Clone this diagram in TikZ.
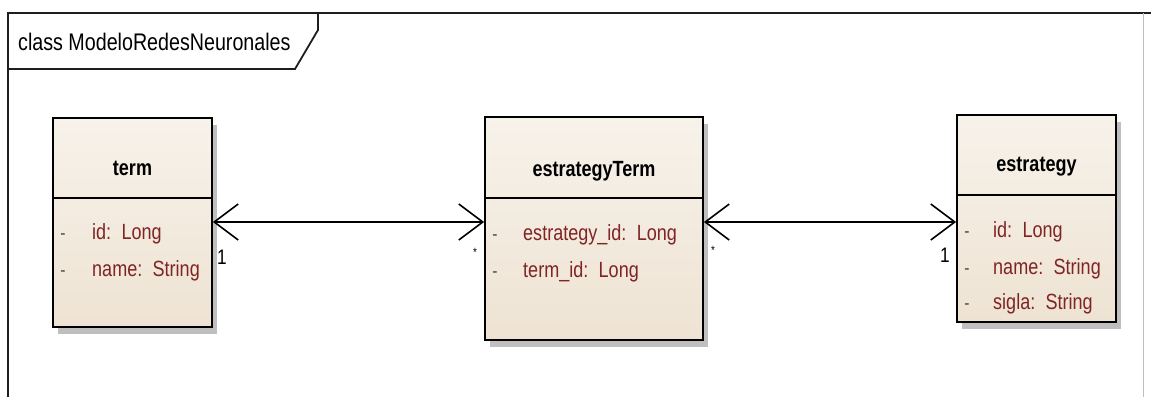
\documentclass[tikz,border=0pt]{standalone}
\usepackage{fontspec}
\setmainfont{Liberation Sans}[FakeStretch=0.82]
\usetikzlibrary{arrows.meta,shadows,calc}
\definecolor{classtop}{RGB}{247,242,234}
\definecolor{classbottom}{RGB}{238,227,211}
\definecolor{attrred}{RGB}{128,36,36}
\definecolor{frameink}{RGB}{30,30,30}
\begin{document}
\begin{tikzpicture}[x=1pt,y=-1pt,
  classbox/.style={draw=black, line width=1.8pt, inner sep=0pt,
    top color=classtop, bottom color=classbottom,
    drop shadow={shadow xshift=5pt, shadow yshift=-7pt, fill=black!25, opacity=1}},
  classname/.style={font=\fontsize{22}{26}\selectfont\bfseries, anchor=base, inner sep=0pt},
  attr/.style={font=\fontsize{22}{26}\selectfont, text=attrred, anchor=base west, inner sep=0pt},
  vis/.style={font=\fontsize{19}{22}\selectfont, text=black!70, anchor=base, inner sep=0pt},
  mult/.style={font=\fontsize{21}{24}\selectfont, anchor=base, inner sep=0pt},
  star/.style={font=\fontsize{12}{14}\selectfont, anchor=center, inner sep=0pt},
  assoc/.style={line width=1.8pt, {Straight Barb[length=24pt,width=36pt,line width=1.6pt]}-{Straight Barb[length=24pt,width=36pt,line width=1.6pt]}},
  frameline/.style={draw=frameink, line width=1.8pt}]

\path[use as bounding box] (0,0) rectangle (1151,397);

% package frame with its name tab
\draw[frameline] (8,397) -- (8,13) -- (1151,13);
\draw[draw=black!25, line width=1pt] (1143,13) -- (1143,397);
\draw[frameline, line join=miter] (318,13) -- (318,30) -- (295,69) -- (8,69);
\node[font=\fontsize{24}{28}\selectfont, anchor=base west, inner sep=0pt]
  (pkgname) at (18,50) {class ModeloRedesNeuronales};

% classes
\node[classbox, minimum width=159pt, minimum height=209pt] (term) at (132.5,222.5) {};
\node[classbox, minimum width=218pt, minimum height=223pt] (estrategyTerm) at (594,228.5) {};
\node[classbox, minimum width=159pt, minimum height=207pt] (estrategy) at (1036.5,218.5) {};

% compartment separators
\draw[line width=1.8pt] ($(term.north west)+(0,81)$) -- ($(term.north east)+(0,81)$);
\draw[line width=1.8pt] ($(estrategyTerm.north west)+(0,82)$) -- ($(estrategyTerm.north east)+(0,82)$);
\draw[line width=1.8pt] ($(estrategy.north west)+(0,81)$) -- ($(estrategy.north east)+(0,81)$);

% class names
\node[classname] (termname) at (132.5,175) {term};
\node[classname] (estrategyTermname) at (594,176) {estrategyTerm};
\node[classname] (estrategyname) at (1036.5,171) {estrategy};

% attributes of term
\node[vis] (tv1) at (63,239) {-};
\node[attr] (ta1) at (92,239) {id:\, Long};
\node[vis] (tv2) at (63,276) {-};
\node[attr] (ta2) at (92,276) {name:\, String};

% attributes of estrategyTerm
\node[vis] (ev1) at (495,240) {-};
\node[attr] (ea1) at (523,240) {estrategy\_id:\, Long};
\node[vis] (ev2) at (495,277) {-};
\node[attr] (ea2) at (523,277) {term\_id:\, Long};

% attributes of estrategy
\node[vis] (sv1) at (967,237) {-};
\node[attr] (sa1) at (993,237) {id:\, Long};
\node[vis] (sv2) at (967,274) {-};
\node[attr] (sa2) at (993,274) {name:\, String};
\node[vis] (sv3) at (967,309) {-};
\node[attr] (sa3) at (993,309) {sigla:\, String};

% associations
\coordinate (assocY) at (0,222);
\draw[assoc] (term.east |- assocY) -- (estrategyTerm.west |- assocY);
\draw[assoc] (estrategyTerm.east |- assocY) -- (estrategy.west |- assocY);

% multiplicities
\node[mult] (m1) at (222,264) {1};
\node[star] (m2) at (475,252) {*};
\node[star] (m3) at (713,250) {*};
\node[mult] (m4) at (945,262) {1};
\end{tikzpicture}
\end{document}
